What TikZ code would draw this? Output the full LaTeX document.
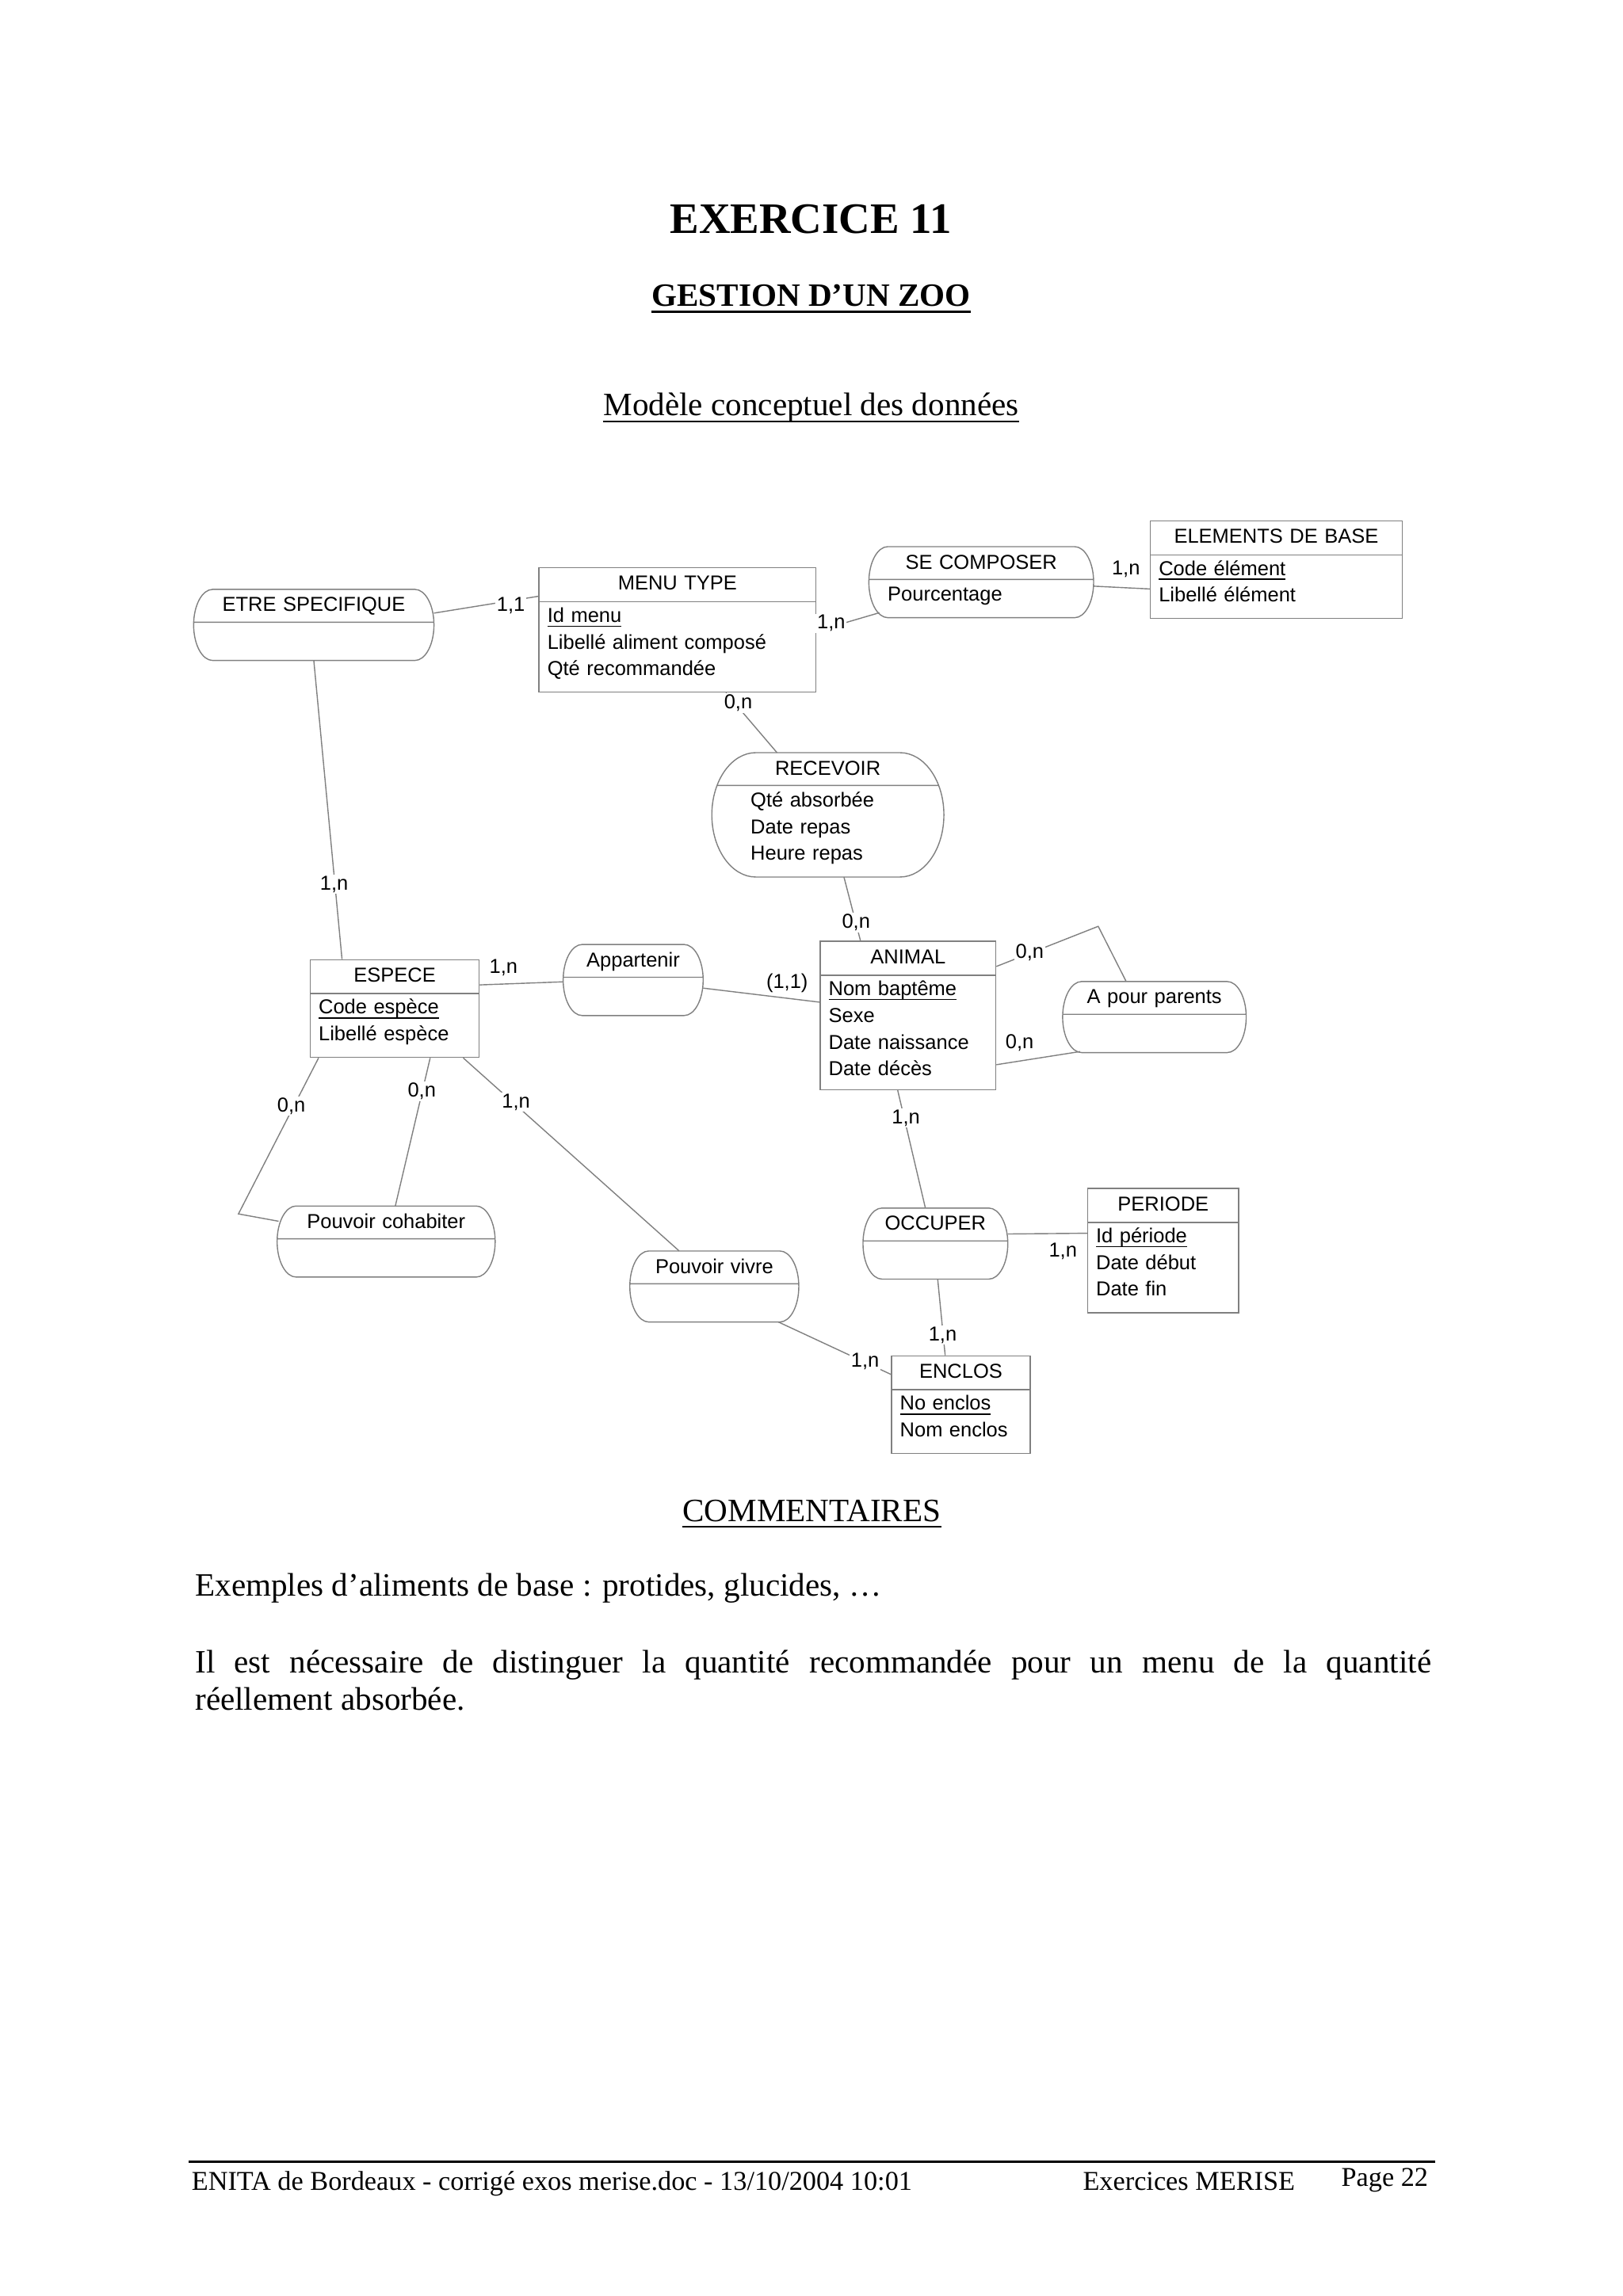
\documentclass[tikz,border=0pt]{standalone}
\usepackage{fontspec}
\setmainfont{Liberation Serif}
\newfontfamily\arial{Liberation Sans}
\usetikzlibrary{shapes.multipart, calc}
\definecolor{gris}{gray}{0.5}
\newcommand{\diag}{\arial\fontsize{7.25pt}{9.57pt}\selectfont}
\newcommand{\stitre}{\rule[-0.1405cm]{0pt}{0.414cm}}
\newcommand{\shaut}{\rule{0pt}{0.2514cm}}
\newcommand{\sbas}{\rule[-0.2033cm]{0pt}{0.2033cm}}
\newcommand{\ident}[1]{\underline{\smash{#1}}}
\newcommand{\titre}[1]{\makebox[\hsize][c]{\stitre #1}}
% contour d'une association : nom, rayon x, retrait du trait
\newcommand{\pilule}[3]{%
  \draw[trait] let \p1=(#1.north west), \p2=(#1.south east), \n1={(\y1-\y2)/2} in
    (\x1+#2,\y1) -- (\x2-#2,\y1)
    arc[start angle=90, end angle=-90, x radius=#2, y radius=\n1]
    -- (\x1+#2,\y2)
    arc[start angle=270, end angle=90, x radius=#2, y radius=\n1] -- cycle
    (\x1+#3,\y1-0.414cm) -- (\x2-#3,\y1-0.414cm);}
\tikzset{
  trait/.style={draw=gris, line width=0.4pt},
  entite/.style={rectangle split, rectangle split parts=2, trait, inner xsep=0.107cm, inner ysep=0pt, align=left, font=\diag, anchor=north west},
  relation/.style={entite, draw=none, outer sep=0pt, inner xsep=0.222cm},
  card/.style={font=\diag, fill=white, inner sep=0.5pt, anchor=base},
  texte/.style={inner sep=0pt, anchor=base, font=\fontsize{11.7pt}{13.3pt}\selectfont},
  pied/.style={inner sep=0pt, font=\fontsize{9.75pt}{11pt}\selectfont}
}
\begin{document}
\begin{tikzpicture}[x=0.018484cm, y=-0.018484cm]
  \fill[white] (0,0) rectangle (1108,1568);
  \useasboundingbox (0,0) rectangle (1108,1568);

  % titres
  \node[texte, font=\bfseries\fontsize{15.6pt}{18pt}\selectfont] (exercice) at (553.5,159.6) {EXERCICE 11};
  \node[texte, font=\bfseries\fontsize{11.7pt}{13.3pt}\selectfont] (gestion) at (553.8,209.2) {GESTION D’UN ZOO};
  \draw[line width=0.75pt] ([yshift=-1.9pt]gestion.base west) -- ([yshift=-1.9pt]gestion.base east);
  \node[texte] (modele) at (553.8,284) {Modèle conceptuel des données};
  \draw[line width=0.6pt] ([yshift=-1.9pt]modele.base west) -- ([yshift=-1.9pt]modele.base east);

  % entites
  \node[entite, text width=3.281cm] (menu) at (367.6,387.4) {\titre{MENU TYPE}\nodepart{two}\shaut\ident{Id menu}\\Libellé aliment composé\\Qté recommandée\sbas};
  \node[entite, text width=2.963cm] (elements) at (785,355.3) {\titre{ELEMENTS DE BASE}\nodepart{two}\shaut\ident{Code élément}\\Libellé élément\sbas};
  \node[entite, text width=1.919cm] (espece) at (211.4,655) {\titre{ESPECE}\nodepart{two}\shaut\ident{Code espèce}\\Libellé espèce\sbas};
  \node[entite, text width=2.002cm] (animal) at (559.6,642.5) {\titre{ANIMAL}\nodepart{two}\shaut\ident{Nom baptême}\\Sexe\\Date naissance\\Date décès\rule[-0.17cm]{0pt}{0.17cm}};
  \node[entite, text width=1.693cm] (periode) at (742.2,811.2) {\titre{PERIODE}\nodepart{two}\shaut\ident{Id période}\\Date début\\Date fin\sbas};
  \node[entite, text width=1.536cm] (enclos) at (608.3,925.5) {\titre{ENCLOS}\nodepart{two}\shaut\ident{No enclos}\\Nom enclos\sbas};

  % associations
  \node[relation, text width=2.588cm] (etre) at (132.2,402.5) {\titre{ETRE SPECIFIQUE}\nodepart{two}\shaut\sbas};
  \node[relation, text width=2.359cm, inner xsep=0.2384cm] (secomp) at (593.2,373.3) {\titre{SE COMPOSER}\nodepart{two}\shaut Pourcentage\sbas};
  \node[relation, text width=1.948cm, inner xsep=0.4898cm] (recevoir) at (486,514) {\titre{RECEVOIR}\nodepart{two}\shaut Qté absorbée\\Date repas\\Heure repas\sbas};
  \node[relation, text width=1.322cm] (appart) at (384.5,645) {\titre{Appartenir}\nodepart{two}\shaut\sbas};
  \node[relation, text width=1.872cm] (parents) at (725.5,670.3) {\titre{A pour parents}\nodepart{two}\shaut\sbas};
  \node[relation, text width=2.307cm] (cohab) at (189.2,823.6) {\titre{Pouvoir cohabiter}\nodepart{two}\shaut\sbas};
  \node[relation, text width=1.688cm] (vivre) at (430,854.3) {\titre{Pouvoir vivre}\nodepart{two}\shaut\sbas};
  \node[relation, text width=1.383cm] (occuper) at (589.2,825) {\titre{OCCUPER}\nodepart{two}\shaut\sbas};
  \foreach \r in {etre, secomp, appart, parents, cohab, vivre, occuper}
    \pilule{\r}{0.24cm}{0cm};
  \pilule{recevoir}{0.555cm}{0.063cm}

  % liens
  \draw[trait] ([shift={(0,16.2)}]etre.north east) -- ([shift={(0,19.8)}]menu.north west);
  \draw[trait] ([shift={(0,43.6)}]menu.north east) -- ([shift={(7.2,-3.4)}]secomp.south west);
  \draw[trait] ([shift={(0,27)}]secomp.north east) -- ([shift={(0,46.9)}]elements.north west);
  \draw[trait] ([shift={(128,0)}]menu.south west) -- ([shift={(44.5,0)}]recevoir.north west);
  \draw[trait] ([shift={(90.2,0)}]recevoir.south west) -- ([shift={(27.9,0)}]animal.north west);
  \draw[trait] (etre.south) -- ([shift={(22.1,0)}]espece.north west);
  \draw[trait] ([shift={(0,17.6)}]espece.north east) -- ([shift={(0,25.5)}]appart.north west);
  \draw[trait] ([shift={(0,29.8)}]appart.north east) -- ([shift={(0,41.9)}]animal.north west);
  \coordinate (coude-parents) at (749.8,632.6);
  \draw[trait] ([shift={(0,17.5)}]animal.north east) -- (coude-parents) -- ([shift={(43.4,0)}]parents.north west);
  \draw[trait] ([shift={(0,84.6)}]animal.north east) -- ([shift={(11.9,-0.7)}]parents.south west);
  \draw[trait] ([shift={(53.3,0)}]animal.south west) -- ([shift={(42.6,0)}]occuper.north west);
  \draw[trait] ([shift={(0,17.7)}]occuper.north east) -- ([shift={(0,31)}]periode.north west);
  \draw[trait] ([shift={(51,0)}]occuper.south west) -- ([shift={(37,0)}]enclos.north west);
  \draw[trait] ([shift={(-13.9,0)}]vivre.south east) -- ([shift={(0,13.1)}]enclos.north west);
  \coordinate (coude-cohab) at (162.8,829);
  \draw[trait] ([shift={(6.1,0)}]espece.south west) -- (coude-cohab) -- ([shift={(1,10.4)}]cohab.north west);
  \draw[trait] ([shift={(82.3,0)}]espece.south west) -- ([shift={(80.7,0)}]cohab.north west);
  \draw[trait] ([shift={(104.9,0)}]espece.south west) -- ([shift={(33.7,0)}]vivre.north west);

  % cardinalites
  \node[card] (c-etre-menu) at (348.8,417.5) {1,1};
  \node[card] (c-menu-secomp) at (567.5,429.5) {1,n};
  \node[card] (c-elements) at (768.7,392.8) {1,n};
  \node[card] (c-menu-recevoir) at (504,484.2) {0,n};
  \node[card] (c-animal-recevoir) at (584.5,633.9) {0,n};
  \node[card] (c-etre-espece) at (228.1,607.7) {1,n};
  \node[card] (c-espece-appart) at (343.8,664.5) {1,n};
  \node[card] (c-animal-appart) at (537.4,675) {(1,1)};
  \node[card] (c-parents-haut) at (703,654.6) {0,n};
  \node[card] (c-parents-bas) at (696.1,715.9) {0,n};
  \node[card] (c-animal-occuper) at (618.5,767.3) {1,n};
  \node[card] (c-periode) at (725.7,858.4) {1,n};
  \node[card] (c-occuper-enclos) at (643.6,915.6) {1,n};
  \node[card] (c-vivre-enclos) at (590.6,933.6) {1,n};
  \node[card] (c-cohab-gauche) at (198.9,759.2) {0,n};
  \node[card] (c-cohab-milieu) at (288,749.3) {0,n};
  \node[card] (c-vivre) at (352.3,756.5) {1,n};

  % commentaires
  \node[texte] (commentaires) at (554.2,1039.3) {COMMENTAIRES};
  \draw[line width=0.6pt] ([yshift=-1.8pt]commentaires.base west) -- ([yshift=-1.8pt]commentaires.base east);
  \node[texte, anchor=base west] (exemples) at (132.9,1090.1) {Exemples d’aliments de base : protides, glucides, …};
  \node[texte, anchor=base west] (quantite) at (132.9,1142.4) {\makebox[15.595cm][s]{Il est nécessaire de distinguer la quantité recommandée pour un menu de la quantité}};
  \node[texte, anchor=base west] (absorbee) at (132.9,1167.7) {réellement absorbée.};

  % pied de page
  \draw[line width=0.75pt] (128.8,1476.4) -- (979.6,1476.4);
  \node[pied, anchor=base west] (source) at (130.5,1495.9) {ENITA de Bordeaux - corrigé exos merise.doc - 13/10/2004 10:01};
  \node[pied, anchor=base west] (merise) at (739,1495.9) {Exercices MERISE};
  \node[pied, anchor=base east] (page) at (975.4,1493.2) {Page 22};
\end{tikzpicture}
\end{document}
